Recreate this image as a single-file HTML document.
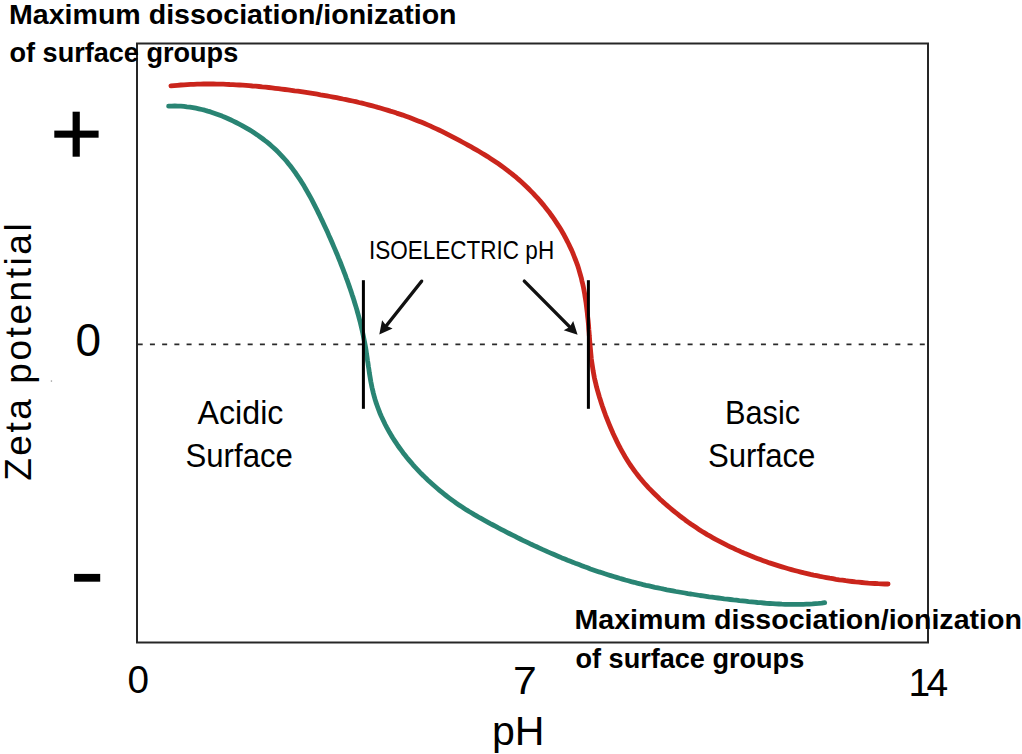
<!DOCTYPE html>
<html><head><meta charset="utf-8"><style>
html,body{margin:0;padding:0;background:#fff;width:1022px;height:754px;overflow:hidden;font-family:"Liberation Sans",sans-serif}
svg{display:block}
</style></head><body>
<svg width="1022" height="754" viewBox="0 0 1022 754">
<rect width="1022" height="754" fill="#fff"/>
<rect x="137" y="43.5" width="791" height="599" fill="none" stroke="#262626" stroke-width="2"/>
<line x1="137.7" y1="344.4" x2="926" y2="344.4" stroke="#2a2a2a" stroke-width="1.8" stroke-dasharray="5 7.22"/>
<path d="M170.9 85.9 L174.2 85.6 L177.5 85.3 L180.8 85.0 L184.0 84.8 L187.3 84.6 L190.6 84.4 L193.8 84.3 L197.1 84.2 L200.4 84.1 L203.6 84.0 L206.9 84.0 L210.2 84.0 L213.4 84.0 L216.7 84.1 L219.9 84.1 L223.2 84.2 L226.4 84.3 L229.7 84.5 L233.0 84.6 L236.2 84.8 L239.5 85.0 L242.7 85.2 L246.0 85.4 L249.2 85.7 L252.5 86.0 L255.7 86.2 L259.0 86.5 L262.2 86.9 L265.5 87.2 L268.7 87.5 L272.0 87.9 L275.2 88.3 L278.4 88.7 L281.7 89.1 L284.9 89.5 L288.2 89.9 L291.4 90.3 L294.6 90.8 L297.9 91.2 L301.1 91.7 L304.4 92.2 L307.6 92.7 L310.8 93.2 L314.1 93.7 L317.3 94.2 L320.5 94.8 L323.7 95.3 L327.0 95.9 L330.2 96.5 L333.4 97.1 L336.6 97.7 L339.8 98.3 L343.0 99.0 L346.2 99.6 L349.4 100.3 L352.6 101.0 L355.8 101.7 L359.0 102.5 L362.1 103.2 L365.3 104.0 L368.5 104.8 L371.6 105.6 L374.8 106.5 L377.9 107.4 L381.0 108.2 L384.2 109.2 L387.3 110.1 L390.4 111.1 L393.5 112.0 L396.6 113.1 L399.7 114.1 L402.8 115.1 L405.9 116.2 L408.9 117.3 L412.0 118.5 L415.0 119.7 L418.1 120.9 L421.1 122.1 L424.1 123.3 L427.1 124.6 L430.1 125.9 L433.1 127.3 L436.0 128.6 L439.0 130.0 L441.9 131.4 L444.8 132.9 L447.7 134.4 L450.6 135.9 L453.5 137.4 L456.4 138.9 L459.3 140.4 L462.2 142.0 L465.0 143.5 L467.9 145.1 L470.8 146.7 L473.6 148.3 L476.4 149.9 L479.2 151.5 L482.0 153.2 L484.8 154.9 L487.6 156.6 L490.4 158.4 L493.1 160.2 L495.8 162.0 L498.5 163.8 L501.2 165.7 L503.8 167.6 L506.4 169.6 L509.0 171.6 L511.6 173.6 L514.1 175.7 L516.6 177.7 L519.1 179.9 L521.5 182.0 L523.9 184.2 L526.3 186.5 L528.6 188.8 L530.9 191.1 L533.2 193.4 L535.4 195.8 L537.6 198.2 L539.8 200.6 L541.9 203.1 L544.0 205.6 L546.0 208.2 L548.0 210.7 L550.0 213.3 L551.9 216.0 L553.8 218.6 L555.6 221.3 L557.4 224.1 L559.2 226.8 L560.9 229.6 L562.6 232.5 L564.2 235.3 L565.7 238.2 L567.2 241.1 L568.7 244.0 L570.1 247.0 L571.5 249.9 L572.8 252.9 L574.0 256.0 L575.2 259.0 L576.4 262.1 L577.5 265.1 L578.5 268.2 L579.4 271.4 L580.3 274.5 L581.2 277.6 L581.9 280.8 L582.7 284.0 L583.4 287.1 L584.0 290.3 L584.6 293.5 L585.1 296.8 L585.6 300.0 L586.1 303.2 L586.5 306.5 L586.9 309.7 L587.3 312.9 L587.6 316.2 L588.0 319.5 L588.3 322.7 L588.6 326.0 L588.8 329.2 L589.1 332.5 L589.3 335.8 L589.6 339.0 L589.8 342.3 L590.1 345.5 L590.4 348.8 L590.7 352.0 L591.0 355.3 L591.3 358.5 L591.7 361.7 L592.2 364.9 L592.7 368.1 L593.2 371.3 L593.8 374.5 L594.4 377.7 L595.1 380.9 L595.9 384.1 L596.6 387.2 L597.5 390.4 L598.4 393.5 L599.3 396.7 L600.3 399.8 L601.3 402.9 L602.3 406.0 L603.4 409.1 L604.5 412.2 L605.6 415.3 L606.8 418.4 L608.0 421.4 L609.2 424.4 L610.5 427.5 L611.8 430.5 L613.1 433.5 L614.5 436.5 L615.9 439.4 L617.3 442.4 L618.8 445.3 L620.3 448.2 L621.9 451.1 L623.5 453.9 L625.1 456.7 L626.8 459.5 L628.5 462.2 L630.3 465.0 L632.2 467.6 L634.1 470.3 L636.0 472.9 L638.0 475.5 L640.0 478.0 L642.1 480.5 L644.2 483.0 L646.4 485.4 L648.6 487.8 L650.9 490.2 L653.2 492.5 L655.5 494.8 L657.9 497.1 L660.3 499.4 L662.7 501.6 L665.1 503.7 L667.6 505.9 L670.1 508.0 L672.6 510.1 L675.1 512.2 L677.7 514.2 L680.3 516.3 L682.9 518.2 L685.5 520.2 L688.1 522.1 L690.8 524.0 L693.5 525.8 L696.2 527.6 L698.9 529.4 L701.7 531.2 L704.5 532.9 L707.2 534.6 L710.1 536.2 L712.9 537.8 L715.7 539.4 L718.6 540.9 L721.5 542.4 L724.4 543.9 L727.3 545.4 L730.2 546.8 L733.2 548.2 L736.1 549.6 L739.1 550.9 L742.1 552.3 L745.1 553.6 L748.1 554.8 L751.1 556.0 L754.2 557.3 L757.2 558.4 L760.3 559.6 L763.3 560.7 L766.4 561.8 L769.5 562.9 L772.6 563.9 L775.7 564.9 L778.8 565.9 L782.0 566.9 L785.1 567.8 L788.3 568.7 L791.4 569.6 L794.6 570.5 L797.7 571.3 L800.9 572.1 L804.1 572.9 L807.2 573.6 L810.4 574.4 L813.6 575.1 L816.8 575.7 L820.0 576.4 L823.2 577.0 L826.4 577.6 L829.6 578.2 L832.8 578.7 L836.0 579.3 L839.2 579.8 L842.4 580.2 L845.7 580.7 L848.9 581.1 L852.1 581.5 L855.4 581.9 L858.6 582.2 L861.9 582.5 L865.1 582.8 L868.4 583.1 L871.7 583.3 L874.9 583.5 L878.2 583.7 L881.5 583.8 L884.8 584.0 L888.1 584.0" fill="none" stroke="#ca251c" stroke-width="4.8" stroke-linecap="round" stroke-linejoin="round"/>
<path d="M168.6 106.2 L171.7 106.1 L174.8 106.0 L177.8 106.1 L180.9 106.2 L183.9 106.4 L186.9 106.8 L189.9 107.1 L192.9 107.6 L195.9 108.2 L198.8 108.8 L201.8 109.5 L204.7 110.2 L207.7 111.1 L210.6 111.9 L213.5 112.9 L216.3 113.9 L219.2 115.0 L222.1 116.1 L224.9 117.3 L227.7 118.5 L230.5 119.8 L233.3 121.1 L236.1 122.5 L238.8 123.9 L241.6 125.3 L244.3 126.8 L246.9 128.3 L249.6 129.9 L252.2 131.5 L254.8 133.2 L257.3 134.9 L259.8 136.7 L262.3 138.5 L264.7 140.4 L267.1 142.2 L269.5 144.2 L271.8 146.2 L274.1 148.2 L276.3 150.3 L278.4 152.4 L280.5 154.6 L282.6 156.8 L284.6 159.0 L286.6 161.3 L288.5 163.7 L290.4 166.0 L292.2 168.4 L294.0 170.9 L295.8 173.3 L297.5 175.8 L299.2 178.3 L300.9 180.9 L302.5 183.5 L304.1 186.1 L305.6 188.7 L307.1 191.4 L308.6 194.0 L310.1 196.7 L311.6 199.4 L313.0 202.1 L314.4 204.9 L315.8 207.6 L317.2 210.4 L318.5 213.1 L319.9 215.9 L321.2 218.7 L322.5 221.4 L323.8 224.2 L325.1 227.0 L326.4 229.8 L327.7 232.6 L328.9 235.4 L330.2 238.2 L331.4 241.0 L332.6 243.8 L333.8 246.6 L335.0 249.4 L336.2 252.2 L337.4 255.0 L338.5 257.9 L339.7 260.7 L340.8 263.5 L341.9 266.4 L343.0 269.2 L344.1 272.1 L345.2 274.9 L346.2 277.8 L347.3 280.6 L348.3 283.5 L349.3 286.4 L350.3 289.2 L351.3 292.1 L352.2 295.0 L353.2 297.9 L354.1 300.8 L355.0 303.7 L355.9 306.6 L356.8 309.6 L357.6 312.5 L358.4 315.4 L359.2 318.4 L360.0 321.3 L360.7 324.3 L361.4 327.2 L362.1 330.2 L362.8 333.2 L363.4 336.2 L364.0 339.2 L364.6 342.2 L365.2 345.2 L365.7 348.2 L366.2 351.2 L366.6 354.2 L367.1 357.3 L367.5 360.3 L368.0 363.4 L368.4 366.4 L368.9 369.4 L369.3 372.5 L369.8 375.5 L370.3 378.5 L370.8 381.5 L371.4 384.5 L372.0 387.5 L372.7 390.4 L373.4 393.4 L374.2 396.3 L375.0 399.2 L375.9 402.1 L376.9 405.0 L377.9 407.8 L379.0 410.7 L380.1 413.5 L381.3 416.3 L382.6 419.0 L383.9 421.8 L385.2 424.5 L386.6 427.2 L388.1 429.9 L389.6 432.6 L391.2 435.2 L392.7 437.8 L394.4 440.4 L396.1 442.9 L397.8 445.5 L399.6 448.0 L401.4 450.4 L403.2 452.9 L405.1 455.3 L407.0 457.7 L409.0 460.1 L411.0 462.4 L413.0 464.8 L415.1 467.1 L417.2 469.3 L419.3 471.6 L421.4 473.8 L423.6 475.9 L425.8 478.1 L428.0 480.2 L430.3 482.3 L432.5 484.3 L434.8 486.3 L437.1 488.3 L439.5 490.3 L441.8 492.2 L444.2 494.1 L446.6 496.0 L449.0 497.8 L451.4 499.6 L453.9 501.4 L456.4 503.2 L458.9 504.9 L461.4 506.6 L463.9 508.2 L466.5 509.9 L469.1 511.5 L471.7 513.0 L474.3 514.6 L476.9 516.1 L479.6 517.7 L482.3 519.2 L484.9 520.6 L487.6 522.1 L490.3 523.6 L493.0 525.0 L495.7 526.4 L498.4 527.9 L501.1 529.3 L503.8 530.7 L506.5 532.1 L509.2 533.5 L512.0 534.9 L514.7 536.2 L517.4 537.6 L520.2 539.0 L522.9 540.3 L525.7 541.6 L528.4 542.9 L531.2 544.3 L534.0 545.6 L536.7 546.8 L539.5 548.1 L542.3 549.4 L545.1 550.6 L547.9 551.9 L550.7 553.1 L553.5 554.3 L556.3 555.5 L559.1 556.7 L561.9 557.9 L564.8 559.0 L567.6 560.2 L570.4 561.3 L573.3 562.4 L576.1 563.6 L579.0 564.6 L581.8 565.7 L584.7 566.8 L587.6 567.8 L590.4 568.9 L593.3 569.9 L596.2 570.9 L599.1 571.9 L602.0 572.8 L604.9 573.8 L607.8 574.7 L610.7 575.6 L613.6 576.5 L616.5 577.4 L619.5 578.3 L622.4 579.1 L625.3 580.0 L628.3 580.8 L631.2 581.6 L634.2 582.3 L637.1 583.1 L640.1 583.8 L643.0 584.6 L646.0 585.3 L649.0 585.9 L652.0 586.6 L654.9 587.3 L657.9 587.9 L660.9 588.5 L663.9 589.2 L666.9 589.8 L669.9 590.3 L672.9 590.9 L675.9 591.5 L678.9 592.0 L681.9 592.5 L684.9 593.0 L687.9 593.6 L691.0 594.0 L694.0 594.5 L697.0 595.0 L700.0 595.5 L703.1 595.9 L706.1 596.3 L709.1 596.8 L712.1 597.2 L715.2 597.6 L718.2 598.0 L721.2 598.4 L724.3 598.8 L727.3 599.1 L730.3 599.5 L733.4 599.9 L736.4 600.2 L739.4 600.6 L742.5 600.9 L745.5 601.2 L748.5 601.6 L751.6 601.9 L754.6 602.2 L757.6 602.5 L760.7 602.7 L763.7 603.0 L766.7 603.3 L769.8 603.5 L772.8 603.7 L775.9 603.9 L778.9 604.0 L781.9 604.2 L785.0 604.3 L788.0 604.4 L791.1 604.4 L794.1 604.4 L797.2 604.4 L800.2 604.4 L803.3 604.3 L806.3 604.2 L809.4 604.1 L812.5 603.9 L815.5 603.6 L818.6 603.4 L821.7 603.1 L824.7 602.7" fill="none" stroke="#298473" stroke-width="4.8" stroke-linecap="round" stroke-linejoin="round"/>
<rect x="361.9" y="280.2" width="3" height="128.6" fill="#000"/>
<rect x="586.9" y="280.2" width="3" height="128.6" fill="#000"/>
<line x1="421.6" y1="281.2" x2="386.3" y2="325.7" stroke="#111" stroke-width="3.4" stroke-linecap="round"/><path d="M379.3 334.5 L382.1 320.2 L386.3 325.7 L392.6 328.5 Z" fill="#111"/>
<line x1="524.3" y1="281.1" x2="569.7" y2="326.9" stroke="#111" stroke-width="3.4" stroke-linecap="round"/><path d="M577.6 334.8 L563.7 330.3 L569.7 326.9 L573.2 320.9 Z" fill="#111"/>
<rect x="54.3" y="130.6" width="44.3" height="7.1" fill="#000"/>
<rect x="72.6" y="111.7" width="7.2" height="45" fill="#000"/>
<rect x="50.8" y="380.4" width="1.3" height="1.3" fill="#999"/>
<rect x="74.1" y="573.9" width="26.1" height="7.8" fill="#000"/>
<text x="9.00" y="23.80" font-size="28.50" font-weight="bold" textLength="447.56" lengthAdjust="spacingAndGlyphs" font-family="'Liberation Sans', sans-serif" >Maximum dissociation/ionization</text>
<text x="9.50" y="62.40" font-size="28.50" font-weight="bold" textLength="228.72" lengthAdjust="spacingAndGlyphs" font-family="'Liberation Sans', sans-serif" >of surface groups</text>
<text x="574.50" y="629.20" font-size="28.50" font-weight="bold" textLength="447.36" lengthAdjust="spacingAndGlyphs" font-family="'Liberation Sans', sans-serif" >Maximum dissociation/ionization</text>
<text x="575.50" y="667.80" font-size="28.50" font-weight="bold" textLength="228.72" lengthAdjust="spacingAndGlyphs" font-family="'Liberation Sans', sans-serif" >of surface groups</text>
<text x="369.00" y="258.50" font-size="26.50" textLength="185.15" lengthAdjust="spacingAndGlyphs" font-family="'Liberation Sans', sans-serif" >ISOELECTRIC pH</text>
<text x="197.50" y="424.10" font-size="34.00" textLength="85.90" lengthAdjust="spacingAndGlyphs" font-family="'Liberation Sans', sans-serif" >Acidic</text>
<text x="185.50" y="466.50" font-size="34.00" textLength="107.39" lengthAdjust="spacingAndGlyphs" font-family="'Liberation Sans', sans-serif" >Surface</text>
<text x="725.00" y="423.60" font-size="33.50" textLength="75.12" lengthAdjust="spacingAndGlyphs" font-family="'Liberation Sans', sans-serif" >Basic</text>
<text x="708.00" y="466.50" font-size="34.00" textLength="107.39" lengthAdjust="spacingAndGlyphs" font-family="'Liberation Sans', sans-serif" >Surface</text>
<text x="127.50" y="692.80" font-size="38.70" font-family="'Liberation Sans', sans-serif" >0</text>
<text x="513.00" y="694.40" font-size="39.50" textLength="23.77" lengthAdjust="spacingAndGlyphs" font-family="'Liberation Sans', sans-serif" >7</text>
<text x="908.50" y="695.80" font-size="39.00" textLength="39.79" lengthAdjust="spacing" font-family="'Liberation Sans', sans-serif" >14</text>
<text x="492.00" y="744.70" font-size="40.00" textLength="52.54" lengthAdjust="spacingAndGlyphs" font-family="'Liberation Sans', sans-serif" >pH</text>
<text x="75.50" y="356.20" font-size="46.00" font-family="'Liberation Sans', sans-serif" >0</text>
<g transform="translate(30.8,480.8) rotate(-90)"><text x="0.00" y="0.00" font-size="37.00" textLength="257.50" lengthAdjust="spacing" font-family="'Liberation Sans', sans-serif" >Zeta potential</text></g>
</svg>
</body></html>
